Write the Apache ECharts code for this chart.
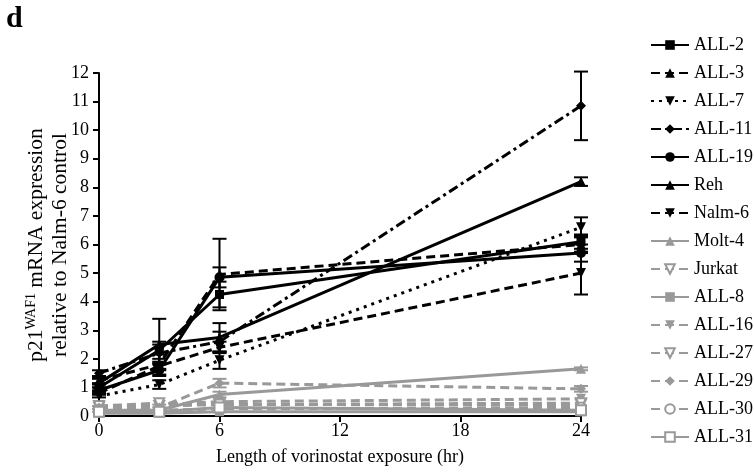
<!DOCTYPE html>
<html><head><meta charset="utf-8">
<script src="https://cdn.jsdelivr.net/npm/echarts@6/dist/echarts.min.js"></script>
<style>html,body{margin:0;padding:0;background:#fff}#c{width:754px;height:474px}</style>
</head><body><div id="c"></div>
<script>
// ---- data ----
const hours = [0, 3, 6, 24];
const xTicks = [0, 6, 12, 18, 24];
const names = ['ALL-2','ALL-3','ALL-7','ALL-11','ALL-19','Reh','Nalm-6','Molt-4','Jurkat','ALL-8','ALL-16','ALL-27','ALL-29','ALL-30','ALL-31'];
const all2   = [1.0, 2.3, 4.25, 6.1];
const all3   = [1.25, 1.8, 4.95, 6.0];
const all7   = [0.7, 1.1, 1.95, 6.6];
const all11  = [1.5, 2.2, 2.6, 10.85];
const all19  = [0.9, 1.6, 4.85, 5.7];
const reh    = [1.15, 2.5, 2.75, 8.2];
const nalm6  = [0.8, 1.75, 2.4, 5.0];
const molt4  = [0.2, 0.2, 0.75, 1.65];
const jurkat = [0.3, 0.35, 0.4, 0.4];
const all8   = [0.1, 0.1, 0.15, 0.15];
const all16  = [0.25, 0.4, 0.5, 0.6];
const all27  = [0.35, 0.45, 0.4, 0.45];
const all29  = [0.3, 0.3, 1.15, 0.95];
const all30  = [0.2, 0.2, 0.25, 0.3];
const all31  = [0.15, 0.15, 0.3, 0.2];
// symmetric error half-widths
const all2Err  = [0.1, 0.3, 0.45, 0.25];
const all3Err  = [0.1, 0.35, 1.25, 0.3];
const all7Err  = [0.05, 0.15, 0.3, 0.35];
const all11Err = [0.1, 0.3, 0.35, 1.2];
const all19Err = [0.1, 0.2, 0.35, 0.3];
const rehErr   = [0.15, 0.9, 0.5, 0.15];
const nalm6Err = [0.05, 0.1, 0.2, 0.75];
const all29Err = [0.05, 0.1, 0.15, 0.1];
const molt4Err = [0.05, 0.1, 0.1, 0.05];

const BLACK = '#000', GRAY = '#999';
const FONT = 'Liberation Serif';

const valuesList = [all2, all3, all7, all11, all19, reh, nalm6, molt4, jurkat, all8, all16, all27, all29, all30, all31];
const styles = [
  {c:BLACK, t:'solid', s:'rect', r:0},
  {c:BLACK, t:[9,5], s:'triangle', r:0},
  {c:BLACK, t:[3,5], s:'triangle', r:180},
  {c:BLACK, t:[10,4,3,4], s:'diamond', r:0},
  {c:BLACK, t:'solid', s:'circle', r:0},
  {c:BLACK, t:'solid', s:'triangle', r:0},
  {c:BLACK, t:[9,5], s:'triangle', r:180},
  {c:GRAY, t:'solid', s:'triangle', r:0},
  {c:GRAY, t:[9,5], s:'emptyTriangle', r:180},
  {c:GRAY, t:'solid', s:'rect', r:0},
  {c:GRAY, t:[9,5], s:'triangle', r:180},
  {c:GRAY, t:[9,5], s:'emptyTriangle', r:180},
  {c:GRAY, t:[9,5], s:'diamond', r:0},
  {c:GRAY, t:[9,5], s:'emptyCircle', r:0},
  {c:GRAY, t:'solid', s:'emptyRect', r:0}
];
const errList = [[all2, all2Err, BLACK],[all3, all3Err, BLACK],[all7, all7Err, BLACK],[all11, all11Err, BLACK],[all19, all19Err, BLACK],[reh, rehErr, BLACK],[nalm6, nalm6Err, BLACK],[all29, all29Err, GRAY],[molt4, molt4Err, GRAY]];

const series = [];
names.forEach((n, i) => {
  const st = styles[i];
  series.push({
    name: n, type: 'line',
    data: hours.map((h, k) => [h, valuesList[i][k]]),
    symbol: st.s, symbolRotate: st.r, symbolSize: st.s.indexOf('rect')>=0 ? 9 : 10,
    lineStyle: {color: st.c, width: 3, type: st.t},
    itemStyle: {color: st.c, borderColor: st.c, borderWidth: st.s.indexOf('empty')===0 ? 1.5 : 0},
    z: st.c === BLACK ? 4 : 3,
    clip: false, animation: false
  });
});
function errRender(params, api) {
  const x = api.value(0), lo = api.value(1), hi = api.value(2), col = api.value(3);
  const a = api.coord([x, hi]), b = api.coord([x, lo]);
  const w = 7;
  const st = {stroke: col === 1 ? GRAY : BLACK, lineWidth: 2};
  return {type: 'group', children: [
    {type: 'line', shape: {x1: a[0], y1: a[1], x2: b[0], y2: b[1]}, style: st},
    {type: 'line', shape: {x1: a[0]-w, y1: a[1], x2: a[0]+w, y2: a[1]}, style: st},
    {type: 'line', shape: {x1: b[0]-w, y1: b[1], x2: b[0]+w, y2: b[1]}, style: st}
  ]};
}
errList.forEach(([vals, err, col]) => {
  series.push({
    type: 'custom', renderItem: errRender, clip: false, z: col === BLACK ? 3.5 : 2.5, animation: false,
    data: hours.map((h, k) => [h, vals[k] - err[k], vals[k] + err[k], col === GRAY ? 1 : 0]),
    encode: {x: 0, y: [1, 2]}
  });
});

const chart = echarts.init(document.getElementById('c'), null, {renderer: 'canvas'});
chart.setOption({
  backgroundColor: '#fff',
  animation: false,
  grid: {left: 99, right: 173, top: 73, bottom: 58},
  xAxis: {
    type: 'value', min: 0, max: 24, interval: 6,
    name: 'Length of vorinostat exposure (hr)', nameLocation: 'middle', nameGap: 32,
    nameTextStyle: {fontFamily: FONT, fontSize: 18, color: BLACK},
    axisLine: {lineStyle: {color: BLACK, width: 2}},
    axisTick: {length: 6, lineStyle: {color: BLACK, width: 2}},
    axisLabel: {fontFamily: FONT, fontSize: 18, color: BLACK, margin: 6,
      formatter: v => xTicks.indexOf(v) >= 0 ? String(v) : ''},
    splitLine: {show: false}
  },
  yAxis: {
    type: 'value', min: 0, max: 12, interval: 1,
    axisLine: {show: true, lineStyle: {color: BLACK, width: 2}},
    axisTick: {show: true, length: 6, lineStyle: {color: BLACK, width: 2}},
    axisLabel: {fontFamily: FONT, fontSize: 18, color: BLACK, margin: 10},
    splitLine: {show: false}
  },
  legend: {
    data: names, orient: 'vertical', left: 645, top: 31,
    itemWidth: 38, itemHeight: 12, itemGap: 10,
    textStyle: {fontFamily: FONT, fontSize: 18, color: BLACK}
  },
  graphic: [
    {type: 'text', left: 6, top: 4, style: {text: 'd', font: 'bold 30px "Liberation Serif"', fill: BLACK}},
    {type: 'text', x: 48, y: 245, rotation: Math.PI / 2,
      style: {
        text: '{n|p21}{s|WAF1}{n| mRNA expression}\n{n|relative to Nalm-6 control}',
        align: 'center', verticalAlign: 'middle', fill: BLACK,
        rich: {
          n: {fontFamily: FONT, fontSize: 21.5, lineHeight: 24, fill: BLACK},
          s: {fontFamily: FONT, fontSize: 14, lineHeight: 24, verticalAlign: 'top', fill: BLACK}
        }
      }}
  ],
  series: series
});
</script></body></html>
